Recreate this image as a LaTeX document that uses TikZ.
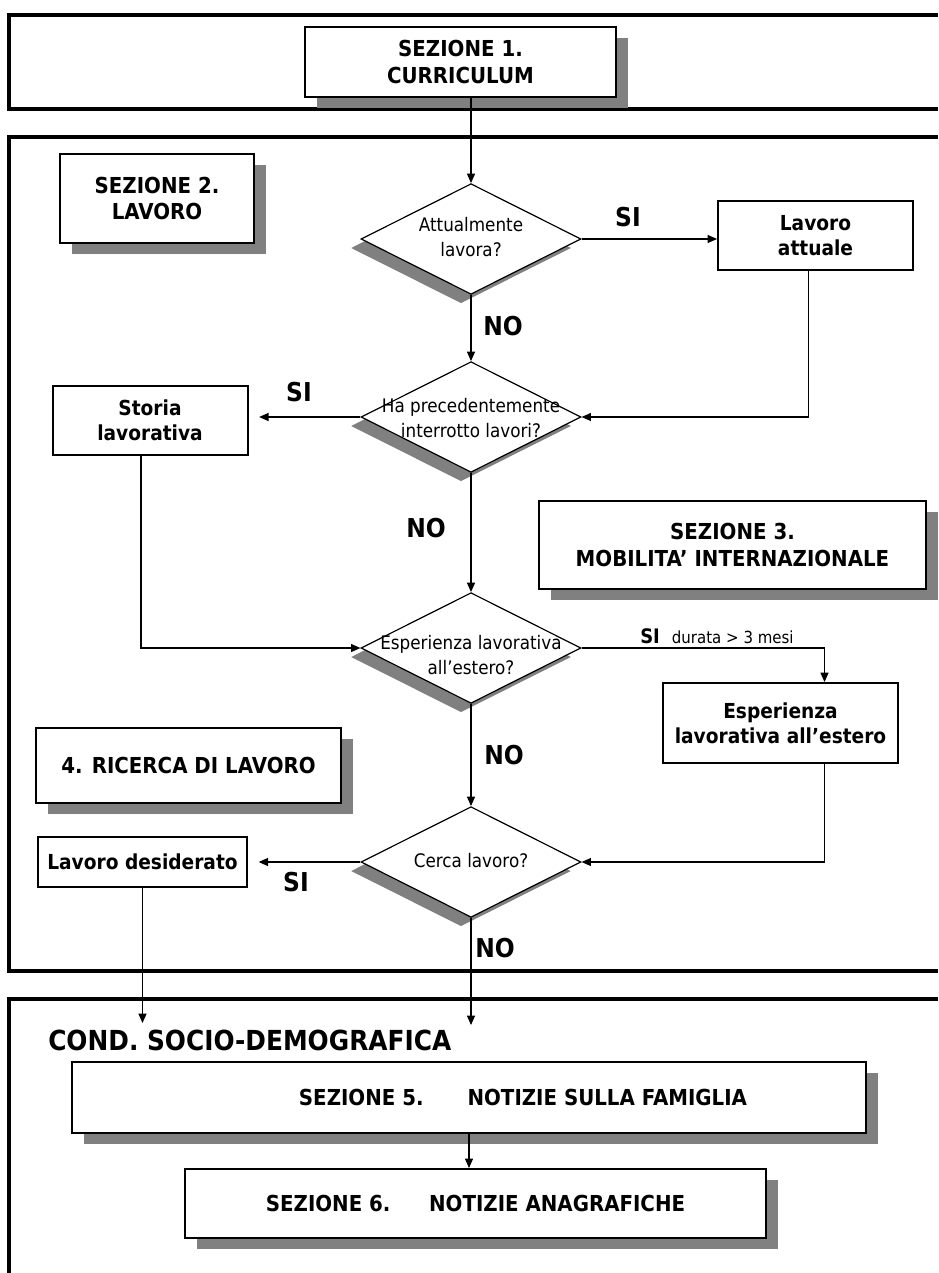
\documentclass[tikz,border=0pt]{standalone}
\usepackage{fontspec}
\setmainfont{DejaVu Sans}[FakeStretch=0.9]
\usepackage{tikz}
\usetikzlibrary{arrows.meta}
\usetikzlibrary{positioning}
\usetikzlibrary{shapes.geometric}
\usetikzlibrary{shadows}
\definecolor{shadowgray}{rgb}{0.5,0.5,0.5}
\tikzset{
  box/.style={draw, line width=1.5pt, fill=white, align=center, inner sep=0pt, font=\fontsize{15.5}{19}\selectfont\bfseries},
  sezbox/.style={box, font=\fontsize{16.5}{20}\selectfont\bfseries, drop shadow={shadow xshift=9pt, shadow yshift=-8.25pt, fill=shadowgray, opacity=1}},
  quest/.style={diamond, draw, line width=0.9pt, fill=white, inner sep=0pt, minimum width=165pt, minimum height=83pt, drop shadow={shadow xshift=-7.5pt, shadow yshift=-6.75pt, fill=shadowgray, opacity=1}},
  qtext/.style={align=center, inner sep=0pt, font=\fontsize{14}{18.5}\selectfont},
  answer/.style={inner sep=0pt, font=\fontsize{19.5}{22}\selectfont\bfseries},
  band/.style={line width=3pt},
  link/.style={line width=0.8pt, -{Triangle[length=7pt,width=6pt]}}
}

\begin{document}
\begin{tikzpicture}[x=0.75pt,y=-0.75pt]
\useasboundingbox (0,0) rectangle (938,1273);
\draw[band] (938,15) -- (9,15) -- (9,109) -- (938,109);
\draw[band] (938,137) -- (9,137) -- (9,971) -- (938,971);
\draw[band] (938,999) -- (9,999) -- (9,1285);

\node[sezbox, minimum width=233.25pt, minimum height=52.5pt] (sez1) at (460.5,62) {SEZIONE 1.\\CURRICULUM};
\node[sezbox, minimum width=145.5pt, minimum height=66.75pt] (sez2) at (157,198.5) {SEZIONE 2.\\LAVORO};
\node[quest] (d1) at (471,239) {};
\node[qtext] (q1) at (471,237) {Attualmente\\lavora?};
\node[box, minimum width=146.25pt, minimum height=51.75pt] (attuale) at (815.5,235.5) {Lavoro\\attuale};
\node[quest] (d2) at (471,417) {};
\node[qtext] (q2) at (471,418) {Ha precedentemente\\interrotto lavori?};
\node[box, minimum width=146.25pt, minimum height=51.75pt] (storia) at (150,420.5) {Storia\\lavorativa};
\node[sezbox, minimum width=290.25pt, minimum height=66pt] (sez3) at (732.5,545) {SEZIONE 3.\\MOBILITA’ INTERNAZIONALE};
\node[quest] (d3) at (471,648) {};
\node[qtext] (q3) at (471,655) {Esperienza lavorativa\\all’estero?};
\node[box, minimum width=176.25pt, minimum height=60pt] (estero) at (780.5,723) {Esperienza\\lavorativa all’estero};
\node[sezbox, minimum width=228.75pt, minimum height=56.25pt] (ricerca) at (188.5,765.5) {4. RICERCA DI LAVORO};
\node[quest] (d4) at (471,862) {};
\node[qtext] (q4) at (471,861) {Cerca lavoro?};
\node[box, minimum width=156.75pt, minimum height=37.5pt] (desiderato) at (142.5,862) {Lavoro desiderato};
\node[anchor=west, inner sep=0pt, font=\fontsize{20.7}{24}\selectfont\bfseries] (cond) at (48,1040) {COND. SOCIO-DEMOGRAFICA};
\node[sezbox, minimum width=595.5pt, minimum height=53.25pt] (sez5) at (469,1097.5) {\hspace*{81pt}SEZIONE 5.\hspace{33pt}NOTIZIE SULLA FAMIGLIA};
\node[sezbox, minimum width=435.75pt, minimum height=51.75pt] (sez6) at (475.5,1203.5) {SEZIONE 6.\hspace{29pt}NOTIZIE ANAGRAFICHE};

\coordinate (in1) at (142.5,1023);
\coordinate (in2) at (471,1025);

\draw[link] (sez1.south -| d1.north) -- (d1.north);
\draw[link] (d1.east) -- (attuale.west |- d1.east);
\draw[link] (d1.south) -- (d2.north);
\draw[link] ([xshift=-5.25pt]attuale.south) |- (d2.east);
\draw[link, shorten >=8pt] (d2.west) -- (storia.east |- d2.west);
\draw[link] ([xshift=-6.75pt]storia.south) |- (d3.west);
\draw[link] (d2.south) -- (d3.north);
\draw[link] (d3.east) -| ([xshift=33pt]estero.north);
\draw[link] (d3.south) -- (d4.north);
\draw[link] ([xshift=33pt]estero.south) |- (d4.east);
\draw[link, shorten >=8pt] (d4.west) -- (desiderato.east |- d4.west);
\draw[link] (desiderato.south) -- (in1);
\draw[link] (d4.south) -- (in2);
\draw[link] (sez5.south) -- (sez5.south |- sez6.north);

\node[answer] (si1) at (628,217) {SI};
\node[answer] (no1) at (503,326) {NO};
\node[answer] (si2) at (299,392) {SI};
\node[answer] (no2) at (426,528) {NO};
\node[anchor=base west, inner sep=0pt] (si3) at (640,643) {{\fontsize{15}{17}\selectfont\bfseries SI}\hspace{9pt}{\fontsize{12.5}{14}\selectfont durata > 3 mesi}};
\node[answer] (no3) at (504,755) {NO};
\node[answer] (si4) at (296,882) {SI};
\node[answer] (no4) at (495,948) {NO};
\end{tikzpicture}
\end{document}
